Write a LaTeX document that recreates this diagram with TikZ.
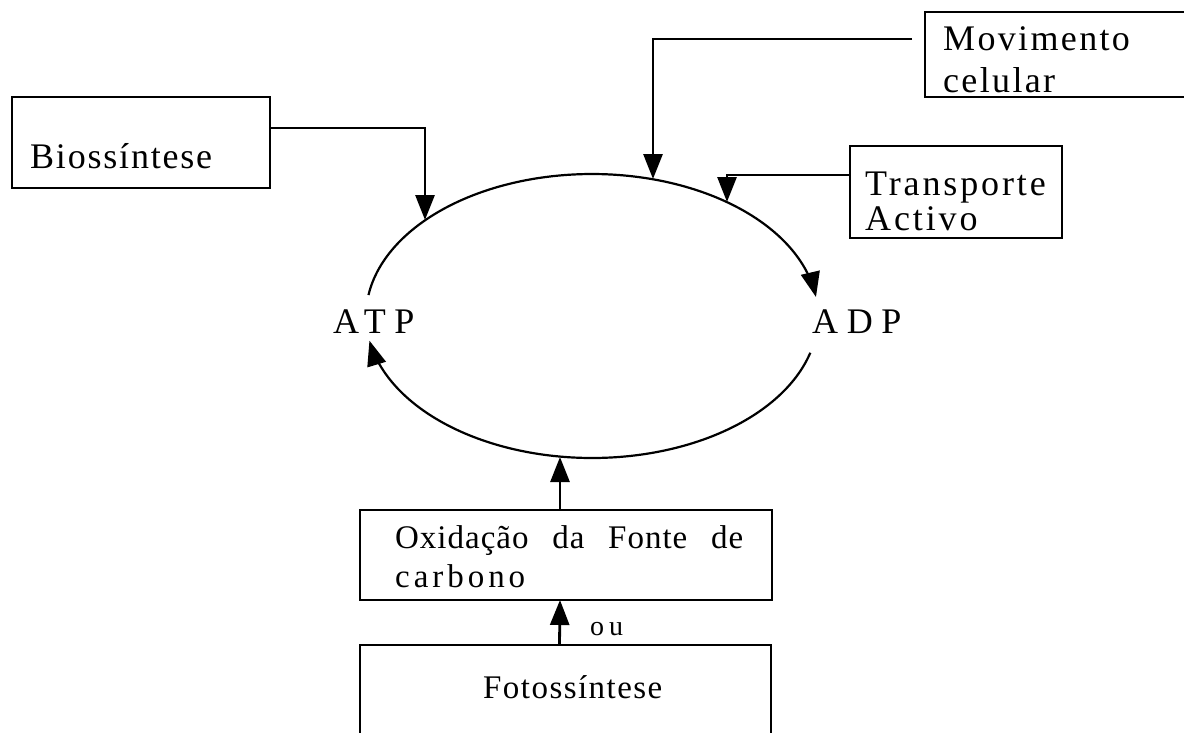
\documentclass[tikz,border=0pt]{standalone}
\usepackage{fontspec}
\setmainfont{Liberation Serif}
\usetikzlibrary{arrows.meta}
\begin{document}
\begin{tikzpicture}[x=1pt,y=-1pt,
  box/.style={draw, line width=2.6pt, inner sep=0pt, outer sep=0pt, anchor=north west},
  lbl/.style={inner sep=0pt, anchor=base west, font=\fontsize{36}{38}\selectfont},
  lblsm/.style={lbl, font=\fontsize{33}{35}\selectfont},
  tip/.style={-{Triangle[length=25pt,width=19pt]}},
  arr/.style={line width=2.8pt, tip},
  cyc/.style={line width=2.2pt, tip},
]
\clip (0,0) rectangle (1184,732);
\fill[white] (0,0) rectangle (1184,732);

% boxes
\node[box, minimum width=258pt, minimum height=91pt] (bio) at (12,97) {};
\node[box, minimum width=300pt, minimum height=85pt] (mov) at (925,12) {};
\node[box, minimum width=212pt, minimum height=92pt] (tra) at (850,146) {};
\node[box, minimum width=412pt, minimum height=90pt] (oxi) at (360,510) {};
\node[box, minimum width=411pt, minimum height=120pt] (fot) at (360,645) {};

% box texts
\node[lbl] (tbio) at (30,168) {\addfontfeature{LetterSpace=5}Biossíntese};
\node[lbl] (tmov1) at (943,50) {\addfontfeature{LetterSpace=6.5}Movimento};
\node[lbl] (tmov2) at (943,92) {\addfontfeature{LetterSpace=6.5}celular};
\node[lbl] (ttra1) at (865,195) {\addfontfeature{LetterSpace=8}Transporte};
\node[lbl] (ttra2) at (865,230) {\addfontfeature{LetterSpace=8}Activo};
\node[lblsm] (toxi1) at (395,548) {\addfontfeature{LetterSpace=3}\makebox[348pt][s]{Oxidação da Fonte de}};
\node[lblsm] (toxi2) at (395,587) {\addfontfeature{LetterSpace=12}carbono};
\node[lblsm] (tfot) at (483,698) {\addfontfeature{LetterSpace=4.4}Fotossíntese};
\node[lbl, font=\fontsize{28}{30}\selectfont] (ou) at (590,635) {\addfontfeature{LetterSpace=18}ou};

% cycle labels
\node[lbl] (atp) at (333,333) {\addfontfeature{LetterSpace=24}ATP};
\node[lbl] (adp) at (812,333) {\addfontfeature{LetterSpace=24}ADP};

% the ATP/ADP cycle
\draw[cyc] plot[domain=188.5:352.3, samples=120] ({592+226*cos(\x)},{316+142*sin(\x)});
\draw[cyc] plot[domain=15:170, samples=120] ({592+226*cos(\x)},{316+142*sin(\x)});

% points where the inputs meet the cycle
\coordinate (bioTip) at (425,220);
\coordinate (movTip) at (653,179);
\coordinate (traTip) at (727,202);
\coordinate (botTip) at (560,457);

% connectors
\draw[arr] ([yshift=14.5pt]bio.east) -| (bioTip);
\draw[arr] ([xshift=-13pt,yshift=15.5pt]mov.west) -| (movTip);
\draw[arr] ([yshift=17pt]tra.west) -| (traTip);
\draw[arr] ([xshift=-6pt]oxi.north) -- (botTip);
\draw[arr] ([xshift=-6pt]fot.north) -- ([xshift=-6pt]oxi.south);
\end{tikzpicture}
\end{document}
